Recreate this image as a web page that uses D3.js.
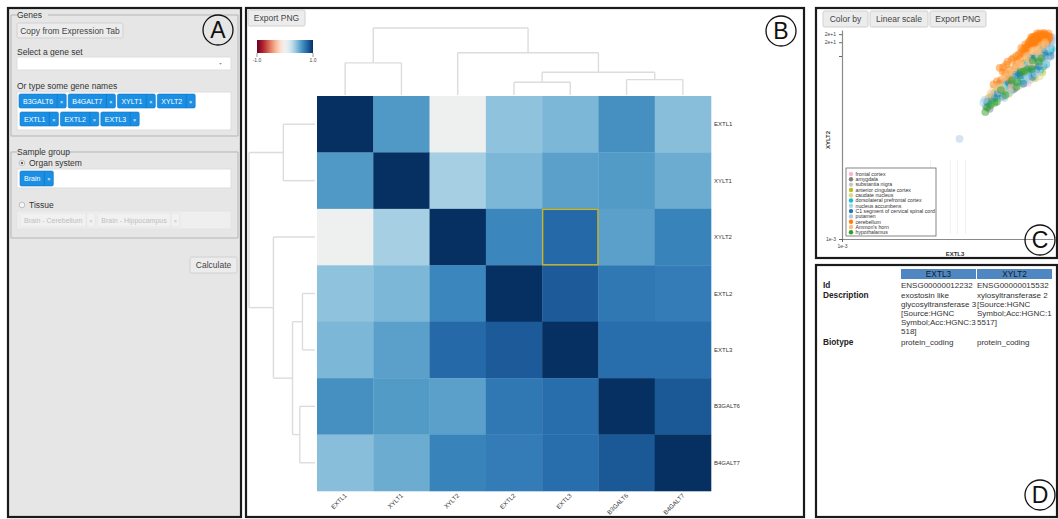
<!DOCTYPE html>
<html><head><meta charset="utf-8">
<script src="https://cdn.jsdelivr.net/npm/d3@7"></script>
<style>
body{margin:0;background:#fff;}
svg{display:block;font-family:"Liberation Sans",Arial,Helvetica,sans-serif;}
</style></head><body>
<svg id="fig" width="1058" height="519"></svg>
<script>
// ---------- data ----------
const genes = ["EXTL1","XYLT1","XYLT2","EXTL2","EXTL3","B3GALT6","B4GALT7"];
const corr = [
  [1.00,0.58,0.03,0.40,0.45,0.62,0.42],
  [0.58,1.00,0.33,0.45,0.55,0.57,0.50],
  [0.03,0.33,1.00,0.66,0.78,0.55,0.67],
  [0.40,0.45,0.66,1.00,0.84,0.72,0.70],
  [0.45,0.55,0.78,0.84,1.00,0.76,0.76],
  [0.62,0.57,0.55,0.72,0.76,1.00,0.85],
  [0.42,0.50,0.67,0.70,0.76,0.85,1.00]
];
const selectedPair = ["XYLT2","EXTL3"]; // [row, column]
const clusterTree = {h:1.0, children:[
  {h:0.48, children:[{name:"EXTL1"},{name:"XYLT1"}]},
  {h:0.63, children:[{name:"XYLT2"},
    {h:0.34, children:[
      {h:0.19, children:[{name:"EXTL2"},{name:"EXTL3"}]},
      {h:0.23, children:[{name:"B3GALT6"},{name:"B4GALT7"}]}
    ]}
  ]}
]};
const colorDomain = [-1, 1];
const colorLabels = ["-1.0","1.0"];

const geneTagRows = [["B3GALT6","B4GALT7","XYLT1","XYLT2"],["EXTL1","EXTL2","EXTL3"]];
const organTags = ["Brain"];
const tissueTags = ["Brain - Cerebellum","Brain - Hippocampus"];

const tissues = ["frontal cortex","amygdala","substantia nigra","anterior cingulate cortex","caudate nucleus",
  "dorsolateral prefrontal cortex","nucleus accumbens","C1 segment of cervical spinal cord","putamen",
  "cerebellum","Ammon's horn","hypothalamus"];
const tissueColors = ["#f7b6d2","#7f7f7f","#c7c7c7","#bcbd22","#dbdb8d","#17becf","#9edae5","#1f77b4",
  "#aec7e8","#ff7f0e","#ffbb78","#2ca02c"];
// expression per sample: [EXTL3, XYLT2, tissue index]
const samples = [
  // frontal cortex
  [3.2,1.5,0],[6,2.2,0],[9,4,0],[14,6,0],[20,9,0],[30,14,0],[40,12,0],[12.5,2.6,0],[18,5.5,0],[26,10,0],[7.5,3.2,0],[35,17,0],
  [4.3,2.8,0],[9.8,4.0,0],[23,10.5,0],[11.2,5.6,0],
  // amygdala
  [1.5,0.8,1],[2.4,1.6,1],[4.5,3,1],[7,4.2,1],[11,7,1],[17,10,1],[25,13,1],[3,2.5,1],[1.8,0.7,1],[9,3.3,1],[14,5,1],[30,11,1],
  [2.0,1.3,1],[6.3,1.9,1],[13.5,4.2,1],[24,12,1],[5.6,1.8,1],[17.5,8.2,1],[28,6,1],
  // substantia nigra
  [2,1.1,2],[3.5,2.4,2],[6,3.6,2],[9,6.5,2],[15,8.5,2],[22,12,2],[33,17,2],[4.5,1.8,2],[11,4,2],[19,6.5,2],[28,9,2],[2.7,1.7,2],
  [3.9,1.7,2],[7.9,3.5,2],[12.3,7.5,2],[26,6,2],[36,10,2],[7.8,2.2,2],[14,3.0,2],[29,13,2],[39,17,2],
  // anterior cingulate cortex
  [1.7,1.2,3],[2.8,1.8,3],[5,4,3],[8,5,3],[13,8,3],[19,11,3],[28,15,3],[4,2,3],[10,3.5,3],[16,6,3],[24,7.5,3],[6.5,2.5,3],
  [4.7,1.5,3],[10.5,6.8,3],[21,8.5,3],[33,14,3],[9.6,3.0,3],[18,3.3,3],[26,4.4,3],[33,19,3],
  // caudate nucleus
  [2.2,1.9,4],[3.8,2.8,4],[6.5,4.6,4],[10,6,4],[16,11,4],[24,14,4],[38,20,4],[5,2.4,4],[12,4.8,4],[20,8,4],[32,13,4],[8,3.2,4],
  [3.0,1.4,4],[9.2,2.4,4],[19.5,12.5,4],[38,22,4],[6,5.8,4],[7.1,3.3,4],[16.5,6.4,4],[23,3.6,4],[30,23,4],
  // dorsolateral prefrontal cortex
  [2.5,1.3,5],[4.2,2.2,5],[7.5,3.8,5],[12,6.3,5],[20,11,5],[30,16,5],[40,15,5],[35,12,5],[24,5,5],[16,4.5,5],[9,2.8,5],[28,8,5],
  [1.7,0.9,5],[5.8,3.0,5],[11.5,3.4,5],[27,14,5],[39,13,5],[4.5,2.4,5],[15,4.0,5],[32,6.5,5],[42,14,5],[35,23,5],
  // nucleus accumbens
  [1.3,0.95,6],[2.1,1.4,6],[3.6,2.0,6],[6,3.3,6],[9.5,5.2,6],[15,9.5,6],[27,12,6],[5,1.6,6],[11,3,6],[20,7,6],[34,10,6],[2.9,1.2,6],
  [3.4,2.2,6],[8.5,5.5,6],[17,7.2,6],[31,8,6],[41,18,6],[6.2,2.8,6],[12,3.1,6],[21,4.5,6],[36,13.5,6],[31,15,6],[40,22,6],
  // C1 segment of cervical spinal cord
  [1.6,1.0,7],[2.7,1.5,7],[4.8,2.6,7],[8,4.3,7],[13,5.5,7],[18,9,7],[5.5,2.4,7],[22,6,7],[10,2.5,7],[30,10,7],[3.5,1.3,7],[16,3.5,7],
  [2.3,1.2,7],[6.8,3.9,7],[14.5,9,7],[29,11.5,7],[34,19,7],[8.8,3.8,7],[19,5.0,7],[40,10,7],[27,17,7],
  // putamen
  [0.39,0.155,8],[1.4,1.1,8],[3,1.7,8],[5.2,3.5,8],[9,5.8,8],[14,7.5,8],[22,10,8],[42,25,8],[40,20,8],[26,7,8],[12,3.8,8],[7,2.4,8],
  [5.3,2.0,8],[18.5,4.2,8],[37,16,8],[43,22,8],[3.8,1.2,8],[13,6.6,8],[24.5,9.5,8],[34,8.5,8],[42,26,8],
  // cerebellum
  [14.6,23,9],[16,25,9],[18,27,9],[20,28,9],[22,29,9],[24,28,9],[26,27,9],[28,29,9],[30,26,9],[19,24,9],
  [21,25,9],[23,24,9],[25,23,9],[27,24,9],[17,21,9],[19,20,9],[21,22,9],[24,20,9],[15,19,9],[13,18,9],
  [12,16,9],[16,17,9],[18,18,9],[29,21,9],[32,27,9],[22,26,9],[26,30,9],[20,19,9],[14,21,9],[11,15,9],
  [30,30,9],[35,28,9],[33,24,9],[17,26,9],[23,31,9],[9,12,9],[7,10,9],[5.5,8.3,9],[4.2,6.5,9],[3.5,4.5,9],
  [5,3.2,9],[6.8,6,9],[8.5,8.5,9],[10,11,9],[3,5.5,9],[2.2,2.4,9],[12,13,9],[3.6,5.7,9],[4.5,7.5,9],[6,9,9],
  [8,11,9],[10,14,9],[13,20,9],[11,18,9],[9,15,9],[15,26,9],[36,31,9],[38,26,9],[28,32,9],[20,31,9],
  [3.2,3,9],[2.6,2.8,9],[4,4.2,9],[5,5,9],[7.5,7.8,9],[11,12,9],[13,15,9],[16,20,9],[18,22,9],[25,25,9],
  [31,22,9],[37,24,9],[21,20,9],[27,20,9],[34,21,9],
  // Ammon's horn
  [2.6,2.1,10],[4,3.5,10],[6,5,10],[8,6.5,10],[12,9,10],[18,13,10],[1.9,1.5,10],[25,15,10],[3.3,2.0,10],[10,5.5,10],
  [15,7,10],[30,18,10],[5.5,2.2,10],[22,11,10],[30,20,10],[25,17,10],[20,14,10],[16,13,10],[12,10,10],[8.5,7,10],[4.8,4.5,10],
  // hypothalamus
  [1.45,0.6,11],[1.6,0.75,11],[2.3,0.95,11],[3.2,1.8,11],[5.5,2.9,11],[9,4.5,11],[16,8,11],[1.9,0.85,11],[4,1.4,11],
  [7,2.1,11],[12,5,11],[25,9,11],[2.6,1.0,11],[7.3,2.7,11],[15.5,5.2,11],[10.2,4.6,11],[22,7.5,11]
];
const zeroSampleX = [0.09, 0.245, 0.35, 0.53];
const scatterDomainX = [1e-3, 45];
const scatterDomainY = [1e-3, 37];
const yTickValues = [1e-3, 10, 20, 30];
const yTickLabels = ["1e-3", "", "2e+1", "2e+1"];
const xTickValues = [1e-3];
const xTickLabels = ["1e-3"];

const infoHeader = ["EXTL3","XYLT2"];
const infoId = ["ENSG00000012232","ENSG00000015532"];
const infoDescription = [
  ["exostosin like","glycosyltransferase 3","[Source:HGNC","Symbol;Acc:HGNC:3","518]"],
  ["xylosyltransferase 2","[Source:HGNC","Symbol;Acc:HGNC:1","5517]"]
];
const infoBiotype = ["protein_coding","protein_coding"];

// ---------- helpers ----------
const svg = d3.select("#fig");
function button(g, x, y, w, h, label, fs) {
  g.append("rect").attr("x",x).attr("y",y).attr("width",w).attr("height",h)
    .attr("fill","#ececec").attr("stroke","#d0d0d0").attr("rx",1.5);
  g.append("text").attr("x",x+w/2).attr("y",y+h/2+fs*0.36).attr("text-anchor","middle")
    .attr("font-size",fs).attr("fill","#444").text(label);
}
function badge(x, y, letter) {
  svg.append("circle").attr("cx",x).attr("cy",y).attr("r",15)
    .attr("fill","none").attr("stroke","#111").attr("stroke-width",1.3);
  svg.append("text").attr("x",x).attr("y",y+8).attr("text-anchor","middle")
    .attr("font-size",23).attr("fill","#111").text(letter);
}

// ---------- panel frames ----------
const frames = [
  {x:8,y:8,w:233,h:509,fill:"#e6e6e6"},
  {x:246,y:8,w:558,h:509,fill:"#ffffff"},
  {x:816,y:8,w:241,h:250,fill:"#ffffff"},
  {x:816,y:265,w:241,h:252,fill:"#ffffff"}
];
svg.selectAll("rect.frame").data(frames).join("rect").attr("class","frame")
  .attr("x",d=>d.x).attr("y",d=>d.y).attr("width",d=>d.w).attr("height",d=>d.h)
  .attr("fill",d=>d.fill).attr("stroke","#1a1a1a").attr("stroke-width",2.2);

// ---------- panel A: inputs ----------
const A = svg.append("g");
function fieldset(x, y, w, h, label, labelW) {
  A.append("path").attr("d",`M${x+6},${y}H${x} V${y+h} H${x+w} V${y} H${x+6+labelW}`)
    .attr("fill","none").attr("stroke","#b5b5b5").attr("stroke-width",1);
  A.append("text").attr("x",x+6).attr("y",y+3).attr("font-size",8.5).attr("fill","#333").text(label);
}
fieldset(11, 15, 227, 121, "Genes", 31);
button(A, 17, 23, 106, 15, "Copy from Expression Tab", 8.5);
A.append("text").attr("x",17).attr("y",55).attr("font-size",8.5).attr("fill","#333").text("Select a gene set");
A.append("rect").attr("x",17).attr("y",57).attr("width",214).attr("height",13).attr("fill","#fff").attr("stroke","#ddd").attr("rx",1.5);
A.append("path").attr("d","M219,63 l3,0 l-1.5,1.8z").attr("fill","#999");
A.append("text").attr("x",17).attr("y",89).attr("font-size",8.5).attr("fill","#333").text("Or type some gene names");
A.append("rect").attr("x",17).attr("y",92).attr("width",214).attr("height",38).attr("fill","#fff").attr("stroke","#ddd");

// selectize-style tags laid out left to right
function tagRow(labels, x0, y, h, fill, txtFill, fs, sepColor) {
  let x = x0;
  labels.forEach(lbl => {
    const g = A.append("g").attr("transform",`translate(${x},${y})`);
    const bg = g.append("rect").attr("height",h).attr("fill",fill).attr("rx",1.5)
      .attr("stroke",sepColor).attr("stroke-width",0.6);
    const t = g.append("text").attr("x",4).attr("y",h/2+fs*0.36).attr("font-size",fs).attr("fill",txtFill).text(lbl);
    const w = t.node().getComputedTextLength() + 8 + 9;
    bg.attr("width",w);
    g.append("line").attr("x1",w-9).attr("x2",w-9).attr("y1",0).attr("y2",h)
      .attr("stroke",sepColor).attr("stroke-width",0.8);
    g.append("text").attr("x",w-4.5).attr("y",h/2+fs*0.36).attr("text-anchor","middle")
      .attr("font-size",fs-1.5).attr("fill",txtFill).text("×");
    x += w + 2;
  });
}
tagRow(geneTagRows[0], 19, 94, 14, "#1b8fe4", "#fff", 7, "#1677c2");
tagRow(geneTagRows[1], 20, 112, 14, "#1b8fe4", "#fff", 7, "#1677c2");

fieldset(11, 152, 227, 86, "Sample group", 50);
function radio(x, y, checked) {
  A.append("circle").attr("cx",x).attr("cy",y).attr("r",2.8).attr("fill","#f5f5f5").attr("stroke","#aaa").attr("stroke-width",0.7);
  if (checked) A.append("circle").attr("cx",x).attr("cy",y).attr("r",1.2).attr("fill","#555");
}
radio(22, 163, true);
A.append("text").attr("x",29).attr("y",166).attr("font-size",8.5).attr("fill","#333").text("Organ system");
A.append("rect").attr("x",17).attr("y",169).attr("width",214).attr("height",19).attr("fill","#fff").attr("stroke","#ddd");
tagRow(organTags, 20, 171, 15, "#1b8fe4", "#fff", 7, "#1677c2");
radio(22, 205, false);
A.append("text").attr("x",29).attr("y",208).attr("font-size",8.5).attr("fill","#333").text("Tissue");
A.append("rect").attr("x",17).attr("y",211).attr("width",214).attr("height",18).attr("fill","#efefef").attr("stroke","#e3e3e3");
tagRow(tissueTags, 20, 213, 14, "#f1f1f1", "#c0c0c0", 7, "#e0e0e0");
button(A, 190, 257, 47, 16, "Calculate", 8.5);

// ---------- panel B: correlation heatmap ----------
const B = svg.append("g");
button(B, 248, 10, 57, 16, "Export PNG", 8.5);
const color = d3.scaleSequential(t => d3.interpolateRdBu(t)).domain(colorDomain);

// colour bar
const cbX = d3.scaleLinear().domain(colorDomain).range([257, 313]);
const grad = svg.append("defs").append("linearGradient").attr("id","rdbu");
d3.range(0, 1.0001, 0.05).forEach(t => grad.append("stop").attr("offset",t)
  .attr("stop-color", color(colorDomain[0] + t*(colorDomain[1]-colorDomain[0]))));
B.append("rect").attr("x",cbX(-1)).attr("y",40).attr("width",cbX(1)-cbX(-1)).attr("height",13).attr("fill","url(#rdbu)");
colorDomain.forEach((v,i) => {
  B.append("line").attr("x1",cbX(v)).attr("x2",cbX(v)).attr("y1",53).attr("y2",57).attr("stroke","#555").attr("stroke-width",0.6);
  B.append("text").attr("x",cbX(v)).attr("y",62).attr("text-anchor","middle").attr("font-size",5).attr("fill","#444").text(colorLabels[i]);
});

const hx = d3.scaleBand().domain(genes).range([317, 711]);
const hy = d3.scaleBand().domain(genes).range([96, 491]);
const cells = [];
genes.forEach((r,i) => genes.forEach((c,j) => cells.push({r, c, v: corr[i][j]})));
B.selectAll("rect.cell").data(cells).join("rect").attr("class","cell")
  .attr("x",d=>hx(d.c)).attr("y",d=>hy(d.r)).attr("width",hx.bandwidth()+0.3).attr("height",hy.bandwidth()+0.3)
  .attr("fill",d=>color(d.v));
B.append("rect").attr("x",hx(selectedPair[1])+0.5).attr("y",hy(selectedPair[0])+0.5)
  .attr("width",hx.bandwidth()-1).attr("height",hy.bandwidth()-1)
  .attr("fill","none").attr("stroke","#c9b626").attr("stroke-width",1.4);

B.selectAll("text.rowlab").data(genes).join("text").attr("class","rowlab")
  .attr("x",714).attr("y",d=>hy(d)+hy.bandwidth()/2+2).attr("font-size",6).attr("fill","#333").text(d=>d);
B.selectAll("text.collab").data(genes).join("text").attr("class","collab")
  .attr("transform",d=>`translate(${hx(d)+hx.bandwidth()/2+2},${496}) rotate(-45)`)
  .attr("text-anchor","end").attr("font-size",6.2).attr("fill","#333").text(d=>d);

// dendrograms (elbow style, parents centred over their children)
const root = d3.hierarchy(clusterTree);
root.each(n => { n.hh = n.data.h || 0; });
function dendro(posScale, hScale, horizontal) {
  root.eachAfter(n => { n.p = n.children ? d3.mean(n.children, c => c.p) : posScale(n.data.name) + posScale.bandwidth()/2; });
  const segs = [];
  root.each(n => {
    if (!n.children) return;
    const [a, b] = n.children;
    segs.push([a.p, hScale(n.hh), b.p, hScale(n.hh)]);
    n.children.forEach(c => segs.push([c.p, hScale(c.hh), c.p, hScale(n.hh)]));
  });
  B.selectAll(null).data(segs).join("line")
    .attr("x1",d=>horizontal?d[1]:d[0]).attr("y1",d=>horizontal?d[0]:d[1])
    .attr("x2",d=>horizontal?d[3]:d[2]).attr("y2",d=>horizontal?d[2]:d[3])
    .attr("stroke","#dcdcdc").attr("stroke-width",1.4);
}
dendro(hx, d3.scaleLinear().domain([0,1]).range([95,28]), false);
dendro(hy, d3.scaleLinear().domain([0,1]).range([315,249]), true);

// ---------- panel C: scatter ----------
const C = svg.append("g");
button(C, 823, 11, 45, 16, "Color by", 8.5);
button(C, 870, 11, 58, 16, "Linear scale", 8.5);
button(C, 930, 11, 56, 16, "Export PNG", 8.5);
const sx = d3.scaleLog().domain(scatterDomainX).range([842, 1053]);
const sy = d3.scaleLog().domain(scatterDomainY).range([239, 30]);
C.selectAll("line.zero").data(zeroSampleX).join("line").attr("class","zero")
  .attr("x1",d=>sx(d)).attr("x2",d=>sx(d)).attr("y1",160).attr("y2",234)
  .attr("stroke","#ececec").attr("stroke-width",0.8);
C.selectAll("circle.pt").data(samples).join("circle").attr("class","pt")
  .attr("cx",d=>sx(d[0])).attr("cy",d=>sy(d[1])).attr("r",3.9)
  .attr("fill",d=>tissueColors[d[2]]).attr("fill-opacity",0.5);
const yAxis = C.append("g").attr("transform","translate(842,0)")
  .call(d3.axisLeft(sy).tickValues(yTickValues).tickFormat((d,i)=>yTickLabels[i]).tickSize(3).tickSizeOuter(0));
const xAxis = C.append("g").attr("transform","translate(0,239)")
  .call(d3.axisBottom(sx).tickValues(xTickValues).tickFormat((d,i)=>xTickLabels[i]).tickSize(3).tickSizeOuter(0));
[yAxis, xAxis].forEach(ax => {
  ax.select(".domain").attr("stroke","#8a8a8a").attr("stroke-width",1.2);
  ax.selectAll(".tick line").attr("stroke","#666");
  ax.selectAll(".tick text").attr("font-size",5).attr("fill","#444").attr("font-family","Liberation Sans, Arial");
});
xAxis.selectAll(".tick text").attr("dy","0.5em");
C.append("text").attr("transform","translate(830,140) rotate(-90)").attr("text-anchor","middle")
  .attr("font-size",6).attr("font-weight","bold").attr("fill","#333").text("XYLT2");
C.append("text").attr("x",955).attr("y",256).attr("text-anchor","middle")
  .attr("font-size",6).attr("font-weight","bold").attr("fill","#333").text("EXTL3");

// legend
C.append("rect").attr("x",846).attr("y",168).attr("width",90).attr("height",68)
  .attr("fill","#fff").attr("stroke","#666").attr("stroke-width",0.8);
const lg = C.selectAll("g.lg").data(tissues).join("g").attr("class","lg")
  .attr("transform",(d,i)=>`translate(851,${174 + i*5.3})`);
lg.append("circle").attr("r",2.2).attr("fill",(d,i)=>tissueColors[i]);
lg.append("text").attr("x",4.5).attr("y",1.8).attr("font-size",5.2).attr("fill","#333").text(d=>d);

// ---------- panel D: gene info table ----------
const D = svg.append("g");
const colX = [901, 977];
const fsD = 8;
infoHeader.forEach((h,i) => {
  D.append("rect").attr("x",colX[i]).attr("y",269).attr("width",75).attr("height",10).attr("fill","#4f87c2");
  D.append("text").attr("x",colX[i]+37.5).attr("y",277).attr("text-anchor","middle").attr("font-size",fsD+0.3).attr("fill","#1a1a1a").text(h);
});
const rowLab = [["Id",288],["Description",298],["Biotype",345]];
rowLab.forEach(([t,y]) => D.append("text").attr("x",823).attr("y",y).attr("font-size",fsD+0.3)
  .attr("font-weight","bold").attr("fill","#222").text(t));
infoId.forEach((t,i) => D.append("text").attr("x",colX[i]).attr("y",288).attr("font-size",fsD).attr("fill","#333").text(t));
infoDescription.forEach((lines,i) => lines.forEach((t,k) => D.append("text").attr("x",colX[i]).attr("y",298+k*9)
  .attr("font-size",fsD).attr("fill","#333").text(t)));
infoBiotype.forEach((t,i) => D.append("text").attr("x",colX[i]).attr("y",345).attr("font-size",fsD).attr("fill","#333").text(t));

// ---------- panel badges ----------
badge(218, 30, "A");
badge(781, 31, "B");
badge(1040, 240, "C");
badge(1040, 495, "D");
</script>
</body></html>
